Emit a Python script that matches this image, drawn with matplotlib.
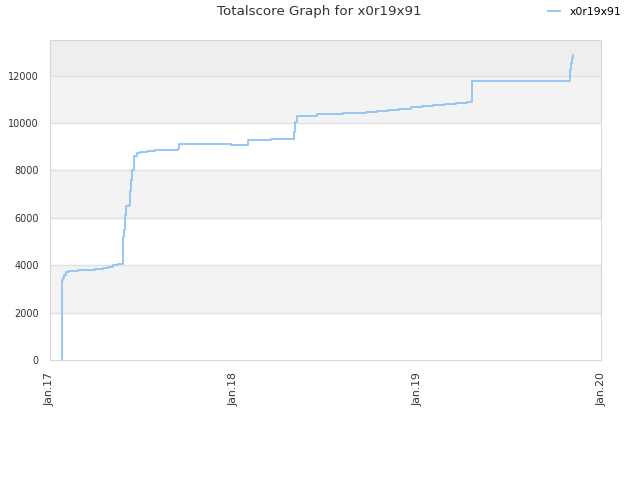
import numpy as np
import pandas as pd
import matplotlib
matplotlib.use('Agg')
import matplotlib.pyplot as plt
import matplotlib.dates as mdates

dates = ['2017-01-24', '2017-01-25', '2017-01-26', '2017-01-29', '2017-02-01', '2017-02-08',
         '2017-02-26', '2017-03-31', '2017-04-16', '2017-04-26', '2017-05-06', '2017-05-16',
         '2017-05-26', '2017-05-27', '2017-05-28', '2017-05-30', '2017-06-02', '2017-06-07',
         '2017-06-08', '2017-06-10', '2017-06-13', '2017-06-17', '2017-06-22', '2017-06-28',
         '2017-07-12', '2017-07-28', '2017-08-20', '2017-09-13', '2017-09-14', '2017-10-19',
         '2017-12-26', '2018-01-30', '2018-03-16', '2018-05-01', '2018-05-02', '2018-05-06',
         '2018-06-15', '2018-08-07', '2018-08-28', '2018-09-21', '2018-10-13', '2018-11-04',
         '2018-11-26', '2018-12-19', '2019-01-11', '2019-02-02', '2019-02-24', '2019-03-19',
         '2019-04-10', '2019-04-19', '2019-07-26', '2019-10-31', '2019-11-02', '2019-11-04',
         '2019-11-06']
scores = [0, 3380, 3450, 3600, 3700, 3775,
          3815, 3860, 3890, 3940, 4000, 4050,
          4110, 5210, 5500, 6130, 6510, 6550,
          7110, 7610, 8030, 8620, 8730, 8760,
          8800, 8845, 8870, 8900, 9130, 9110,
          9060, 9280, 9320, 9620, 10030, 10310,
          10370, 10410, 10440, 10480, 10520, 10565,
          10610, 10660, 10700, 10745, 10790, 10830,
          10870, 11790, 11750, 12250, 12510, 12750,
          12860]
yticks = [0, 2000, 4000, 6000, 8000, 10000, 12000]
xticks = ['2017-01-01', '2018-01-01', '2019-01-01', '2020-01-01']
xlabels = ['Jan.17', 'Jan.18', 'Jan.19', 'Jan.20']

x = pd.to_datetime(dates)

fig = plt.figure(figsize=(6.4, 4.8), dpi=100)
ax = fig.add_axes([50/640, 120/480, 551/640, 320/480])

ymax = 13500
# background bands
ax.axhspan(2000, 4000, color='#f3f3f3', zorder=0, lw=0)
ax.axhspan(6000, 8000, color='#f3f3f3', zorder=0, lw=0)
ax.axhspan(10000, 12000, color='#f3f3f3', zorder=0, lw=0)
ax.axhspan(12000, ymax, color='#eeeeee', zorder=0, lw=0)
for t in yticks[1:]:
    ax.axhline(t, color='#e0e0e0', lw=1, zorder=1)

ax.plot(x, scores, drawstyle='steps-post', color='#90c3f2', lw=1.3, zorder=3, label='x0r19x91')

ax.set_xlim(pd.Timestamp(xticks[0]), pd.Timestamp(xticks[-1]))
ax.set_ylim(0, ymax)
ax.set_yticks(yticks)
ax.set_yticklabels([str(t) for t in yticks])
ax.set_xticks(pd.to_datetime(xticks))
ax.set_xticklabels(xlabels, rotation=90)
ax.tick_params(length=0, colors='#333333')
ax.tick_params(axis='y', labelsize=7, pad=8)
ax.tick_params(axis='x', labelsize=7.8, pad=9)
for s in ax.spines.values():
    s.set_color('#d8d8d8')

fig.text(319/640, 1 - 12/480, 'Totalscore Graph for x0r19x91', ha='center', va='center',
         fontsize=9.6, color='#333333')
fig.legend(loc='center left', bbox_to_anchor=(548/640, 1 - 12/480), frameon=False, fontsize=7.8,
           handlelength=1.1, handletextpad=0.9, borderaxespad=0, borderpad=0)

fig.savefig('out.png', dpi=100)
